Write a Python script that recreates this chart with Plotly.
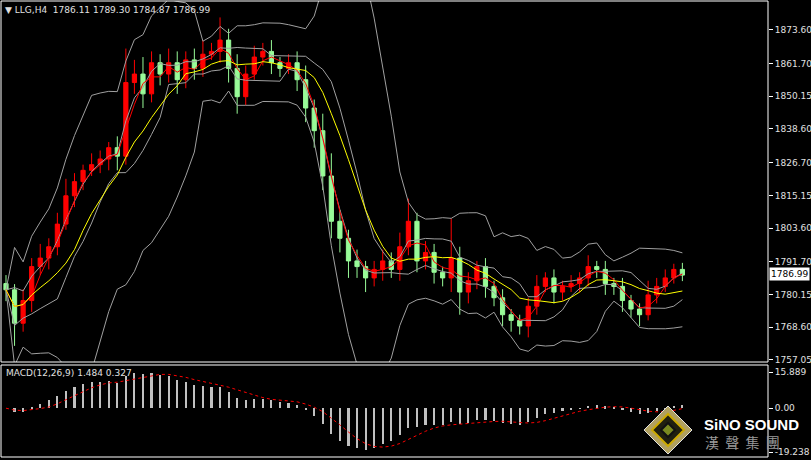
import plotly.graph_objects as go
import pandas as pd
import numpy as np

closes = [1781.8,1770,1778,1790,1793,1797,1805,1815,1820,1824,1826,1828,1832,1829,1855,1858,1851,1862,1858,1862,
          1856,1863,1860,1865,1866,1870,1860,1850,1858,1864,1866,1862,1860,1862,1856,1846,1838,1822,1806,1800,
          1792,1790,1786,1789,1792,1789,1797,1806,1792,1795,1788,1786,1793,1781,1785,1790,1783,1779,1773,1771,
          1769,1776,1783,1786,1781,1783,1784,1786,1790,1789,1784,1783,1778,1775,1773,1780,1783,1786,1789,1786.99]
first_open = 1784.0
up_wick = [3,2,4,3,5,3,4,6,3,2,4,3,2,4,12,5,6,4,3,5,4,3,4,5,3,8,4,5,3,4,3,4,2,3,4,5,3,6,8,4,
           3,4,2,3,4,3,5,8,3,4,3,2,14,4,3,2,3,2,3,2,2,3,4,2,3,2,3,2,4,2,3,2,3,2,2,5,3,3,2,2.31]
dn_wick = [4,8,3,4,3,4,3,2,4,3,2,3,4,5,3,4,5,3,4,3,5,3,4,3,2,4,5,6,3,2,3,4,3,2,4,5,6,5,6,5,
           6,4,5,3,4,3,4,3,4,3,4,3,5,8,4,3,4,3,4,4,3,4,3,2,4,3,2,3,3,3,4,3,4,3,4,2,3,2,2,2.12]
price_ticks = [1873.60,1861.70,1850.15,1838.60,1826.70,1815.15,1803.60,1791.70,1780.15,1768.60,1757.05]
macd_ticks = [15.889, 0.0, -19.238]
macd_tick_text = ["15.889", "0.00", "-19.238"]

n = len(closes)
idx = list(range(n))
opens = [first_open] + closes[:-1]
highs = [max(o, c) + w for o, c, w in zip(opens, closes, up_wick)]
lows = [min(o, c) - w for o, c, w in zip(opens, closes, dn_wick)]
s = pd.Series(closes)
ma_fast = s.rolling(3, min_periods=1).mean()
ma_slow = s.rolling(8, min_periods=1).mean()
mid_o = s.rolling(10, min_periods=1).mean(); sd_o = s.rolling(10, min_periods=1).std().fillna(0)
mid_i = s.rolling(6, min_periods=1).mean(); sd_i = s.rolling(6, min_periods=1).std().fillna(0)
ema_f = s.ewm(span=6, adjust=False).mean(); ema_s = s.ewm(span=13, adjust=False).mean()
macd = ema_f - ema_s
signal = macd.rolling(5, min_periods=1).mean()

W, H = 811, 460
def py(p): return 1 - p / H
def px(p): return p / W

fig = go.Figure()
up = [c >= o for o, c in zip(opens, closes)]
for flag, col in [(True, "#ff0000"), (False, "#98fb98")]:
    sel = [i for i in idx if up[i] == flag]
    fig.add_trace(go.Candlestick(x=sel, open=[opens[i] for i in sel], high=[highs[i] for i in sel],
        low=[lows[i] for i in sel], close=[closes[i] for i in sel],
        increasing=dict(line=dict(color=col, width=1), fillcolor=col),
        decreasing=dict(line=dict(color=col, width=1), fillcolor=col),
        whiskerwidth=0, showlegend=False, hoverinfo="skip"))
for ser in [mid_o + 2.5 * sd_o, mid_o - 2.5 * sd_o, mid_i + 0.8 * sd_i, mid_i - 0.8 * sd_i]:
    fig.add_trace(go.Scatter(x=idx, y=ser, mode="lines", line=dict(color="#a0a0a0", width=1), showlegend=False))
fig.add_trace(go.Scatter(x=idx, y=ma_fast, mode="lines", line=dict(color="#ff0000", width=1), showlegend=False))
fig.add_trace(go.Scatter(x=idx, y=ma_slow, mode="lines", line=dict(color="#ffff00", width=1), showlegend=False))
fig.add_trace(go.Bar(x=idx, y=macd, marker_color="#c0c0c0", marker_line_width=0, width=0.25,
                     xaxis="x2", yaxis="y2", showlegend=False))
fig.add_trace(go.Scatter(x=idx, y=signal, mode="lines", line=dict(color="#ff0000", width=1, dash="dot"),
                         xaxis="x2", yaxis="y2", showlegend=False))

xr = [-0.7, 89]
dom_x = [0, 768 / W]
fig.update_layout(
    width=W, height=H, margin=dict(l=0, r=0, t=0, b=0, autoexpand=False), paper_bgcolor="black", plot_bgcolor="black",
    font=dict(family="DejaVu Sans", color="#e0e0e0", size=9), bargap=0,
    xaxis=dict(domain=dom_x, range=xr, showgrid=False, zeroline=False, showticklabels=False,
               rangeslider=dict(visible=False), anchor="y", automargin=False),
    xaxis2=dict(domain=dom_x, range=xr, showgrid=False, zeroline=False, showticklabels=False, anchor="y2", automargin=False),
    yaxis=dict(domain=[py(362), py(1)], range=[1756.3, 1883.8], side="right", tickvals=price_ticks,
               ticktext=[f"{v:.2f}" for v in price_ticks], showgrid=False, zeroline=False, automargin=False,
               ticks="outside", ticklen=4, tickcolor="white", anchor="x"),
    yaxis2=dict(domain=[py(457), py(365)], range=[-21.43, 18.96], side="right", tickvals=macd_ticks,
                ticktext=macd_tick_text, showgrid=False, zeroline=False, automargin=False,
                ticks="outside", ticklen=4, tickcolor="white", anchor="x2"),
)
for y0, y1 in [(1, 362), (365, 457)]:
    fig.add_shape(type="rect", xref="paper", yref="paper", x0=px(1), x1=px(768), y0=py(y1), y1=py(y0),
                  line=dict(color="white", width=1))
fig.add_annotation(xref="paper", yref="paper", x=px(3), y=py(10), xanchor="left", yanchor="middle",
                   text="▼ LLG,H4  1786.11 1789.30 1784.87 1786.99", showarrow=False, font=dict(size=9, color="#e0e0e0"))
fig.add_annotation(xref="paper", yref="paper", x=px(4), y=py(373), xanchor="left", yanchor="middle",
                   text="MACD(12,26,9) 1.484 0.327", showarrow=False, font=dict(size=9, color="#e0e0e0"))
fig.add_annotation(xref="paper", yref="paper", x=px(769), y=py(274), xanchor="left", yanchor="middle",
                   text="1786.99", showarrow=False, bgcolor="white", borderpad=1, font=dict(size=9, color="black"))
fig.add_annotation(xref="paper", yref="paper", x=px(702), y=py(424), xanchor="left", yanchor="middle",
                   text="<b>SiNO SOUND</b>", showarrow=False, font=dict(family="Liberation Sans", size=15, color="white"))
fig.add_annotation(xref="paper", yref="paper", x=px(703), y=py(442), xanchor="left", yanchor="middle",
                   text="漢  聲  集  團", showarrow=False, font=dict(family="Noto Sans CJK TC", size=14, color="#9a9a9a"))
cx, cy = 668, 430
def dia(r):
    return f"M {px(cx)} {py(cy-r)} L {px(cx+r)} {py(cy)} L {px(cx)} {py(cy+r)} L {px(cx-r)} {py(cy)} Z"
fig.add_shape(type="path", xref="paper", yref="paper", path=dia(24), fillcolor="#b0a060", line=dict(color="#e0e0e0", width=1))
fig.add_shape(type="path", xref="paper", yref="paper", path=dia(16), fillcolor="#202010", line=dict(color="#ccaa00", width=2))
fig.add_shape(type="path", xref="paper", yref="paper", path=dia(7), fillcolor="#7a8a20", line=dict(color="#111", width=2))
fig.write_html("out.html", config={"displayModeBar": False},
               post_script="document.body.style.margin='0';document.body.style.background='black';")
